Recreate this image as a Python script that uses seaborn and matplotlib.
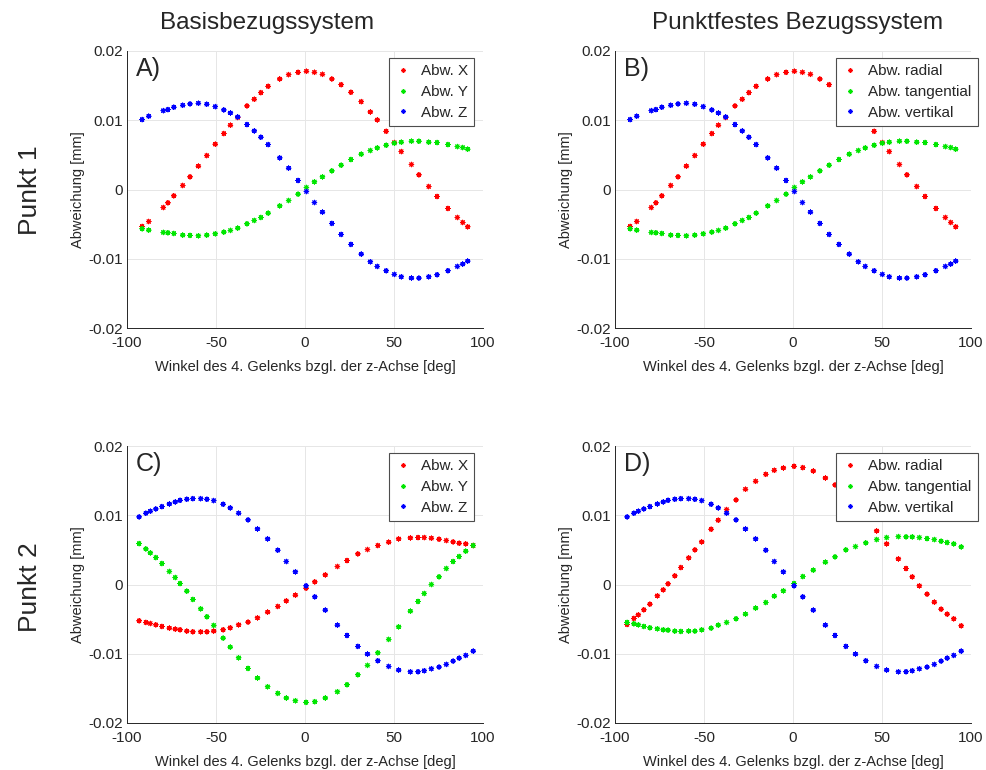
import pandas as pd
import matplotlib
matplotlib.use("Agg")
import matplotlib.pyplot as plt
import seaborn as sns

# Winkel des 4. Gelenks (obere Reihe, Punkt 1)
winkel_p1 = [-91.5, -87.8, -79.6, -77.0, -73.7, -68.7, -64.6, -59.9, -55.2, -50.4,
             -45.6, -41.9, -37.8, -32.6, -28.5, -24.8, -20.7, -14.2, -9.2, -3.9,
             0.8, 5.3, 9.8, 15.1, 20.3, 25.8, 31.6, 36.7, 40.6, 45.6,
             50.2, 54.1, 59.8, 64.0, 69.5, 74.2, 80.3, 85.6, 88.6, 91.4]

# Punkt 1 - Abweichungen [mm]
p1_x = [-0.00534, -0.00462, -0.00260, -0.00192, -0.00091, 0.00058, 0.00183, 0.00337, 0.00490, 0.00654,
        0.00808, 0.00928, 0.01040, 0.01207, 0.01303, 0.01399, 0.01490, 0.01596, 0.01659, 0.01692,
        0.01707, 0.01692, 0.01663, 0.01596, 0.01514, 0.01404, 0.01269, 0.01120, 0.01005, 0.00840,
        0.00678, 0.00548, 0.00361, 0.00212, 0.00043, -0.00101, -0.00274, -0.00404, -0.00476, -0.00538]
p1_y = [-0.00567, -0.00587, -0.00620, -0.00625, -0.00635, -0.00659, -0.00663, -0.00668, -0.00659, -0.00639,
        -0.00615, -0.00591, -0.00558, -0.00495, -0.00447, -0.00404, -0.00341, -0.00236, -0.00159, -0.00067,
        0.00029, 0.00111, 0.00183, 0.00269, 0.00351, 0.00433, 0.00510, 0.00563, 0.00601, 0.00639,
        0.00668, 0.00683, 0.00697, 0.00697, 0.00683, 0.00678, 0.00649, 0.00620, 0.00606, 0.00582]
p1_z = [0.01010, 0.01058, 0.01139, 0.01154, 0.01188, 0.01216, 0.01236, 0.01245, 0.01231, 0.01197,
        0.01149, 0.01106, 0.01048, 0.00938, 0.00846, 0.00755, 0.00649, 0.00457, 0.00308, 0.00130,
        -0.00029, -0.00188, -0.00327, -0.00490, -0.00649, -0.00793, -0.00933, -0.01043, -0.01111, -0.01173,
        -0.01226, -0.01260, -0.01279, -0.01279, -0.01260, -0.01231, -0.01173, -0.01111, -0.01077, -0.01034]

# Winkel (untere Reihe, Punkt 2)
winkel_p2 = [-93.2, -89.4, -86.9, -83.8, -80.4, -76.2, -72.9, -70.2, -66.4, -63.0,
             -58.6, -55.1, -51.3, -46.0, -42.0, -37.3, -32.0, -26.7, -21.0, -15.3,
             -10.5, -5.4, 0.6, 5.5, 11.4, 18.2, 23.6, 29.7, 35.1, 40.9,
             47.0, 52.6, 59.2, 63.5, 67.0, 71.0, 75.3, 79.4, 83.2, 86.6, 90.3, 94.5]

# Punkt 2 - Basisbezugssystem
p2_x = [-0.00524, -0.00548, -0.00563, -0.00582, -0.00606, -0.00630, -0.00644, -0.00654, -0.00673, -0.00683,
        -0.00683, -0.00683, -0.00673, -0.00654, -0.00625, -0.00582, -0.00543, -0.00481, -0.00399, -0.00317,
        -0.00236, -0.00154, -0.00053, 0.00038, 0.00139, 0.00260, 0.00346, 0.00442, 0.00505, 0.00563,
        0.00611, 0.00659, 0.00673, 0.00678, 0.00678, 0.00668, 0.00654, 0.00635, 0.00615, 0.00596, 0.00587, 0.00563]
p2_y = [0.00591, 0.00514, 0.00457, 0.00389, 0.00303, 0.00188, 0.00101, 0.00014, -0.00096, -0.00216,
        -0.00351, -0.00466, -0.00591, -0.00774, -0.00904, -0.01058, -0.01212, -0.01351, -0.01476, -0.01572,
        -0.01639, -0.01678, -0.01702, -0.01692, -0.01639, -0.01548, -0.01447, -0.01303, -0.01168, -0.00986,
        -0.00793, -0.00611, -0.00385, -0.00245, -0.00130, 0.00000, 0.00111, 0.00231, 0.00332, 0.00404, 0.00481, 0.00563]
p2_z = [0.00976, 0.01029, 0.01058, 0.01091, 0.01125, 0.01163, 0.01192, 0.01216, 0.01231, 0.01240,
        0.01240, 0.01231, 0.01212, 0.01159, 0.01106, 0.01029, 0.00933, 0.00803, 0.00659, 0.00495,
        0.00332, 0.00183, -0.00019, -0.00178, -0.00370, -0.00587, -0.00736, -0.00894, -0.01005, -0.01101,
        -0.01183, -0.01236, -0.01260, -0.01260, -0.01245, -0.01216, -0.01192, -0.01154, -0.01106, -0.01063, -0.01024, -0.00962]

# Punkt 2 - punktfestes Bezugssystem
p2_radial = [-0.00577, -0.00490, -0.00438, -0.00365, -0.00284, -0.00163, -0.00077, 0.00010, 0.00125, 0.00245,
             0.00385, 0.00500, 0.00615, 0.00798, 0.00928, 0.01082, 0.01221, 0.01375, 0.01490, 0.01591,
             0.01649, 0.01683, 0.01707, 0.01688, 0.01639, 0.01538, 0.01438, 0.01300, 0.01168, 0.00986,
             0.00774, 0.00587, 0.00370, 0.00231, 0.00111, -0.00019, -0.00139, -0.00255, -0.00356, -0.00428, -0.00495, -0.00596]
p2_tangential = [-0.00548, -0.00567, -0.00582, -0.00606, -0.00625, -0.00639, -0.00654, -0.00659, -0.00673, -0.00678,
                 -0.00673, -0.00673, -0.00654, -0.00630, -0.00587, -0.00548, -0.00495, -0.00428, -0.00341, -0.00260,
                 -0.00168, -0.00091, 0.00014, 0.00115, 0.00207, 0.00322, 0.00399, 0.00500, 0.00548, 0.00601,
                 0.00649, 0.00678, 0.00692, 0.00688, 0.00688, 0.00678, 0.00663, 0.00649, 0.00625, 0.00606, 0.00587, 0.00543]

labels_basis = ["Abw. X", "Abw. Y", "Abw. Z"]
labels_fest = ["Abw. radial", "Abw. tangential", "Abw. vertikal"]
farben = ["#ff0000", "#00e600", "#0000ff"]

sns.set_theme(style="whitegrid")
plt.rcParams['font.family'] = ['Liberation Sans', 'DejaVu Sans']
plt.rcParams['axes.unicode_minus'] = False


def long_df(winkel, reihen, labels):
    teile = []
    for werte, lab in zip(reihen, labels):
        teile.append(pd.DataFrame({'Winkel': winkel, 'Abw': werte, 'Reihe': lab}))
    return pd.concat(teile, ignore_index=True)


panels = [
    ("A)", long_df(winkel_p1, [p1_x, p1_y, p1_z], labels_basis), labels_basis, [127, 51], 0.736),
    ("B)", long_df(winkel_p1, [p1_x, p1_y, p1_z], labels_fest), labels_fest, [615, 51], 0.621),
    ("C)", long_df(winkel_p2, [p2_x, p2_y, p2_z], labels_basis), labels_basis, [127, 446], 0.736),
    ("D)", long_df(winkel_p2, [p2_radial, p2_tangential, p2_z], labels_fest), labels_fest, [615, 446], 0.621),
]

W, H = 986, 770
fig = plt.figure(figsize=(9.86, 7.7), dpi=100)
stern = (8, 2, 0)

for buchst, df, labels, (px, py), leg_x in panels:
    ax = fig.add_axes([px / W, 1 - (py + 277) / H, 356 / W, 277 / H])
    sns.scatterplot(data=df, x='Winkel', y='Abw', hue='Reihe', hue_order=labels,
                    palette=farben, marker=stern, s=11, linewidth=0.7, ax=ax)
    ax.set_xlim(-100, 100)
    ax.set_ylim(-0.02, 0.02)
    ax.set_xticks([-100, -50, 0, 50, 100])
    ax.set_yticks([-0.02, -0.01, 0, 0.01, 0.02])
    ax.set_yticklabels(["-0.02", "-0.01", "0", "0.01", "0.02"])
    ax.set_xlabel("Winkel des 4. Gelenks bzgl. der z-Achse [deg]", fontsize=10.5, color='0.15', labelpad=7)
    ax.set_ylabel("Abweichung [mm]", fontsize=10.5, color='0.15', labelpad=2)
    ax.grid(True, color='0.9', linewidth=0.7)
    for s in ['top', 'right']:
        ax.spines[s].set_visible(False)
    for s in ['left', 'bottom']:
        ax.spines[s].set_color('0.15')
        ax.spines[s].set_linewidth(0.7)
    ax.tick_params(direction='in', length=3, width=0.7, color='0.15',
                   labelsize=11, labelcolor='0.15')
    ax.tick_params(axis='x', pad=6)
    ax.tick_params(axis='y', pad=3)
    ax.text(0.025, 0.978, buchst, transform=ax.transAxes, fontsize=18,
            va='top', ha='left', color='0.15')
    leg = ax.legend(loc='upper left', bbox_to_anchor=(leg_x, 0.975), borderaxespad=0,
                    fontsize=11, frameon=True, fancybox=False, framealpha=1,
                    edgecolor='0.3', handlelength=1.0, handletextpad=0.7,
                    labelspacing=0.45, borderpad=0.4, markerscale=1.0)
    leg.get_frame().set_linewidth(0.8)
    for t in leg.get_texts():
        t.set_color('0.15')

fig.text(267 / W, 1 - 23 / H, "Basisbezugssystem", fontsize=17.5, ha='center', va='center', color='0.15')
fig.text(798 / W, 1 - 23 / H, "Punktfestes Bezugssystem", fontsize=17.5, ha='center', va='center', color='0.15')
fig.text(30 / W, 1 - 190 / H, "Punkt 1", fontsize=19, rotation=90, ha='center', va='center', color='0.15')
fig.text(30 / W, 1 - 587 / H, "Punkt 2", fontsize=19, rotation=90, ha='center', va='center', color='0.15')

fig.savefig("out.png", dpi=100, facecolor='white')
